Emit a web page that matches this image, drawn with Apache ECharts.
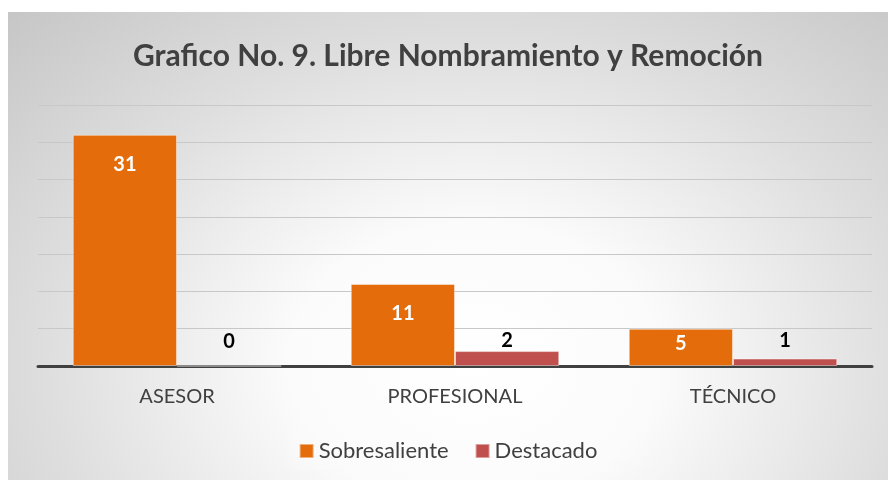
<!DOCTYPE html>
<html lang="es">
<head>
    <meta charset="UTF-8">
    <title>Grafico No. 9</title>
    <style>
        body { margin: 0; background: #fff; }
        .div {
            position: absolute;
            left: 8px;
            top: 12px;
            width: 880px;
            height: 468px;
            background: radial-gradient(ellipse farthest-corner at 53% 75%, #ffffff 0%, #fbfbfb 28%, #dedede 65%, #c6c6c6 100%);
        }
    </style>
</head>
<body>
    <div class="div"></div>
    <script src="https://cdn.jsdelivr.net/npm/echarts@6/dist/echarts.min.js"></script>
    <script>
        const categorias = ['ASESOR', 'PROFESIONAL', 'TÉCNICO']
        const sobresaliente = [31, 11, 5]
        const destacado = [0, 2, 1]
        const fuente = 'Lato, "Open Sans", sans-serif'

        const echart = echarts.init(document.querySelector('.div'))
        echart.setOption({
            backgroundColor: 'transparent',
            textStyle: { fontFamily: fuente },
            title: {
                text: 'Grafico No. 9. Libre Nombramiento y Remoción',
                left: 'center',
                top: 24,
                textStyle: { fontSize: 30, fontWeight: 'bold', color: '#404040', fontFamily: fuente }
            },
            legend: {
                bottom: 10,
                left: 'center',
                itemWidth: 14,
                itemHeight: 14,
                itemGap: 26,
                icon: 'rect',
                padding: [8, 10],
                backgroundColor: 'rgba(255,255,255,0.15)',
                textStyle: { fontSize: 22, color: '#404040' }
            },
            grid: { left: 30, right: 16, top: 93, bottom: 114 },
            xAxis: {
                type: 'category',
                data: categorias,
                axisTick: { show: false },
                axisLine: { lineStyle: { color: '#404040', width: 3 } },
                axisLabel: { fontSize: 20, color: '#404040', margin: 21 }
            },
            yAxis: {
                type: 'value',
                min: 0,
                max: 35,
                interval: 5,
                axisLabel: { show: false },
                splitLine: { lineStyle: { color: '#c8c8c8', width: 1 } }
            },
            series: [
                {
                    name: 'Sobresaliente',
                    type: 'bar',
                    // short bars keep the label nearer the top
                    data: sobresaliente.map(v => ({ value: v, label: { distance: v < 8 ? 5 : 20 } })),
                    barGap: '0%',
                    barCategoryGap: '25%',
                    itemStyle: { color: '#E46C0A', borderColor: 'rgba(255,255,255,0.45)', borderWidth: 1 },
                    label: {
                        show: true, position: 'insideTop',
                        color: '#fff', fontSize: 20, fontWeight: 'bold'
                    }
                },
                {
                    name: 'Destacado',
                    type: 'bar',
                    data: destacado,
                    itemStyle: { color: '#C0504D', borderColor: 'rgba(255,255,255,0.45)', borderWidth: 1 },
                    label: {
                        show: true, position: 'insideBottom', offset: [0, -10],
                        color: '#000', fontSize: 20, fontWeight: 'bold'
                    }
                }
            ]
        })
    </script>
</body>
</html>
